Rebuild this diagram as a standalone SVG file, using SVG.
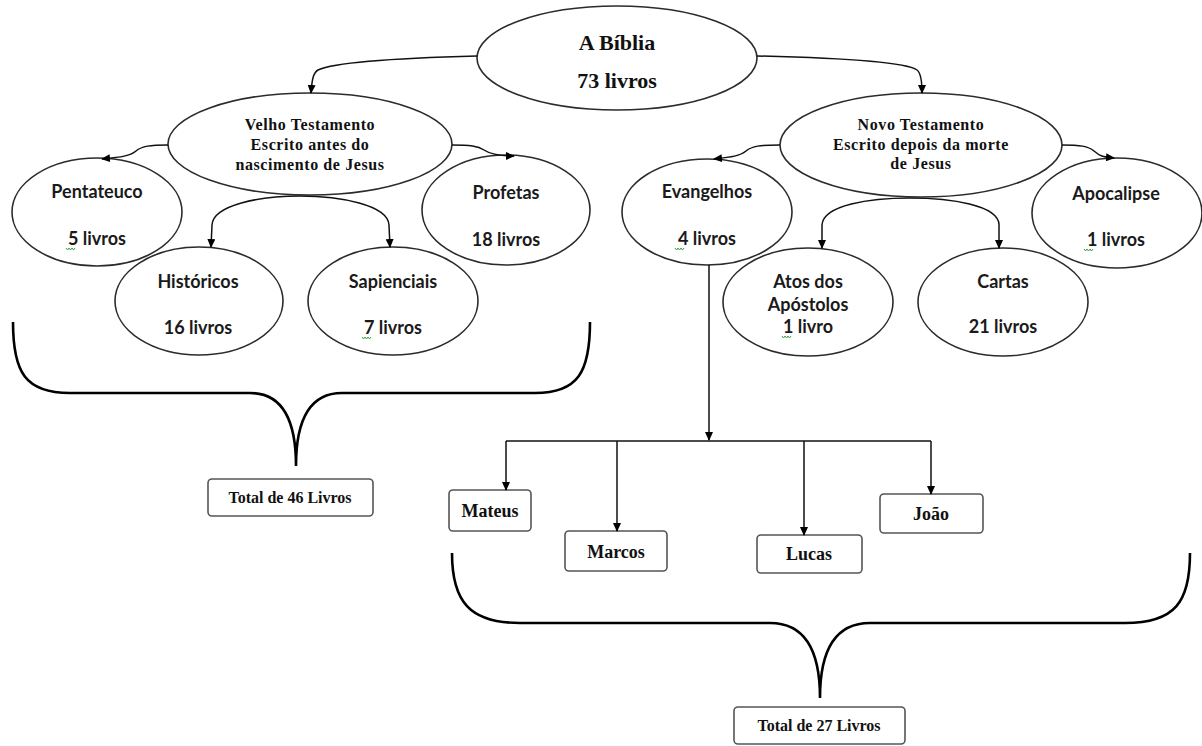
<svg xmlns="http://www.w3.org/2000/svg" width="1202" height="746" viewBox="0 0 1202 746">
  <defs>
    <marker id="arrow" markerWidth="9" markerHeight="8" refX="8" refY="4" orient="auto" markerUnits="userSpaceOnUse">
      <path d="M0,0 L9,4 L0,8 Z" fill="#000"/>
    </marker>
    <style>
      .oval { fill: #fff; stroke: #2b2b2b; stroke-width: 1.6; }
      .box { fill: #fff; stroke: #555; stroke-width: 1.6; }
      .serif { font-family: "Liberation Serif", "Times New Roman", serif; font-weight: bold; fill: #111; text-anchor: middle; }
      .sans { font-family: Lato, "Liberation Sans", sans-serif; font-weight: bold; fill: #1a1a1a; text-anchor: middle; font-size: 18px; }
      .link { fill: none; stroke: #111; stroke-width: 1.5; }
      .brace { fill: none; stroke: #000; stroke-width: 2.6; }
      .spell { fill: none; stroke: #3aa33a; stroke-width: 1; }
    </style>
  </defs>
  <rect width="1202" height="746" fill="#fff"/>

  <g id="biblia">
    <ellipse class="oval" cx="617" cy="58" rx="140" ry="52"/>
    <text class="serif" x="617" y="50" font-size="22">A Bíblia</text>
    <text class="serif" x="617" y="88" font-size="22">73 livros</text>
  </g>

  <g id="velho-testamento">
    <ellipse class="oval" cx="310" cy="144" rx="142" ry="51"/>
    <text class="serif" x="310" y="130" font-size="16" letter-spacing="0.6">Velho Testamento</text>
    <text class="serif" x="310" y="150" font-size="16" letter-spacing="0.6">Escrito antes do</text>
    <text class="serif" x="310" y="170" font-size="16" letter-spacing="0.6">nascimento de Jesus</text>
  </g>

  <g id="novo-testamento">
    <ellipse class="oval" cx="921" cy="145" rx="141" ry="52"/>
    <text class="serif" x="921" y="130" font-size="16" letter-spacing="0.6">Novo Testamento</text>
    <text class="serif" x="921" y="150" font-size="16" letter-spacing="0.6">Escrito depois da morte</text>
    <text class="serif" x="921" y="169" font-size="16" letter-spacing="0.6">de Jesus</text>
  </g>

  <g id="pentateuco">
    <ellipse class="oval" cx="97" cy="212" rx="85" ry="54"/>
    <text class="sans" x="97" y="198">Pentateuco</text>
    <text class="sans" x="97" y="245">5 livros</text>
    <path class="spell" d="M66,248 l1.5,2 l1.5,-2 l1.5,2 l1.5,-2 l1.5,2 l1.5,-2"/>
  </g>

  <g id="profetas">
    <ellipse class="oval" cx="506" cy="210" rx="84" ry="55"/>
    <text class="sans" x="506" y="199">Profetas</text>
    <text class="sans" x="506" y="246">18 livros</text>
  </g>

  <g id="historicos">
    <ellipse class="oval" cx="199" cy="301" rx="84" ry="54"/>
    <text class="sans" x="198" y="288">Históricos</text>
    <text class="sans" x="198" y="334">16 livros</text>
  </g>

  <g id="sapienciais">
    <ellipse class="oval" cx="393" cy="301" rx="85" ry="54"/>
    <text class="sans" x="393" y="288">Sapienciais</text>
    <text class="sans" x="393" y="334">7 livros</text>
    <path class="spell" d="M362,337 l1.5,2 l1.5,-2 l1.5,2 l1.5,-2 l1.5,2 l1.5,-2"/>
  </g>

  <g id="evangelhos">
    <ellipse class="oval" cx="707" cy="212" rx="85" ry="53"/>
    <text class="sans" x="707" y="198">Evangelhos</text>
    <text class="sans" x="707" y="245">4 livros</text>
    <path class="spell" d="M675,248 l1.5,2 l1.5,-2 l1.5,2 l1.5,-2 l1.5,2 l1.5,-2"/>
  </g>

  <g id="apocalipse">
    <ellipse class="oval" cx="1117" cy="213" rx="85" ry="55"/>
    <text class="sans" x="1116" y="200">Apocalipse</text>
    <text class="sans" x="1116" y="246">1 livros</text>
    <path class="spell" d="M1084,249 l1.5,2 l1.5,-2 l1.5,2 l1.5,-2 l1.5,2 l1.5,-2"/>
  </g>

  <g id="atos">
    <ellipse class="oval" cx="808" cy="302" rx="85" ry="54"/>
    <text class="sans" x="808" y="288">Atos dos</text>
    <text class="sans" x="808" y="311">Apóstolos</text>
    <text class="sans" x="808" y="333">1 livro</text>
    <path class="spell" d="M782,336 l1.5,2 l1.5,-2 l1.5,2 l1.5,-2 l1.5,2 l1.5,-2"/>
  </g>

  <g id="cartas">
    <ellipse class="oval" cx="1003" cy="302" rx="85" ry="54"/>
    <text class="sans" x="1003" y="288">Cartas</text>
    <text class="sans" x="1003" y="333">21 livros</text>
  </g>

  <g id="mateus">
    <rect class="box" x="449" y="490" width="82" height="41" rx="4"/>
    <text class="serif" x="490" y="517" font-size="18">Mateus</text>
  </g>

  <g id="marcos">
    <rect class="box" x="565" y="531" width="102" height="40" rx="4"/>
    <text class="serif" x="616" y="558" font-size="18">Marcos</text>
  </g>

  <g id="lucas">
    <rect class="box" x="757" y="535" width="105" height="38" rx="4"/>
    <text class="serif" x="809" y="560" font-size="18">Lucas</text>
  </g>

  <g id="joao">
    <rect class="box" x="880" y="494" width="103" height="39" rx="4"/>
    <text class="serif" x="931" y="520" font-size="18">João</text>
  </g>

  <g id="total-46">
    <rect class="box" x="208" y="479" width="165" height="37" rx="4"/>
    <text class="serif" x="290" y="503" font-size="16">Total de 46 Livros</text>
  </g>

  <g id="total-27">
    <rect class="box" x="734" y="707" width="171" height="37" rx="4"/>
    <text class="serif" x="819" y="731" font-size="16">Total de 27 Livros</text>
  </g>

  <!-- connectors, drawn last so the arrowheads sit on the node outlines -->
  <g id="connectors">
    <path class="link" marker-end="url(#arrow)" d="M477,56 C400,58 335,62 318,70 C313,73 312,80 311,93"/>
    <path class="link" marker-end="url(#arrow)" d="M757,56 C840,58 905,62 917,70 C921,73 922,80 922,93"/>
    <path class="link" marker-end="url(#arrow)" d="M168,145 C150,145 142,146 136,151 C130,156 122,157 102,159"/>
    <path class="link" marker-end="url(#arrow)" d="M452,145 C470,145 478,146 484,150 C490,154 498,156 514,156"/>
    <path class="link" marker-end="url(#arrow)" d="M300,196 C260,196 213,205 212,225 L211,247"/>
    <path class="link" marker-end="url(#arrow)" d="M300,196 C340,196 388,205 389,225 L390,247"/>
    <path class="link" marker-end="url(#arrow)" d="M780,145 C760,145 752,146 746,151 C740,156 732,157 714,159"/>
    <path class="link" marker-end="url(#arrow)" d="M1062,145 C1080,145 1088,146 1094,151 C1100,156 1102,157 1114,158"/>
    <path class="link" marker-end="url(#arrow)" d="M910,198 C870,198 823,205 822,225 L822,248"/>
    <path class="link" marker-end="url(#arrow)" d="M910,198 C950,198 999,205 999,225 L999,248"/>
    <path class="link" marker-end="url(#arrow)" d="M709,265 L709,440"/>
    <path class="link" d="M506,441 L931,441"/>
    <path class="link" marker-end="url(#arrow)" d="M506,441 L506,490"/>
    <path class="link" marker-end="url(#arrow)" d="M617,441 L617,531"/>
    <path class="link" marker-end="url(#arrow)" d="M804,441 L804,535"/>
    <path class="link" marker-end="url(#arrow)" d="M931,441 L931,494"/>
    <!-- curly braces -->
    <path class="brace" d="M13,322 C13,372 25,393 70,393 L250,393 C282,393 296,420 296,466 C296,420 310,393 342,393 L535,393 C578,393 590,372 590,322"/>
    <path class="brace" d="M452,553 C452,602 470,623 520,623 L770,623 C805,623 820,650 820,698 C820,650 835,623 870,623 L1125,623 C1175,623 1190,602 1190,553"/>
  </g>
</svg>
